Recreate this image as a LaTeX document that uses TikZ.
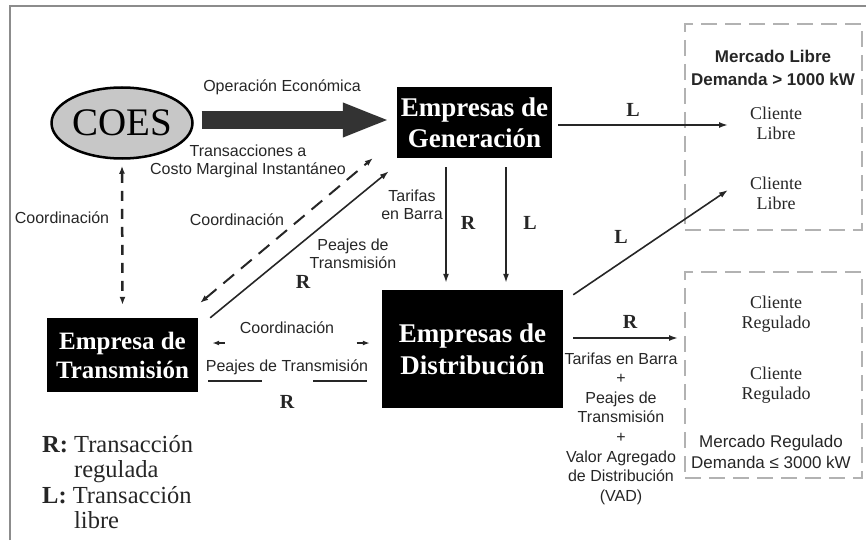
\documentclass[tikz,border=0pt]{standalone}
\usepackage{fontspec}
\setmainfont{Liberation Serif}
\setsansfont{Liberation Sans}
\usetikzlibrary{shapes.geometric,arrows.meta,calc}
\begin{document}
\begin{tikzpicture}[x=1pt,y=-1pt,
  blackbox/.style={fill=black, text=white, font=\bfseries\fontsize{27}{31}\selectfont, align=center, inner sep=0pt},
  lbl/.style={font=\sffamily\fontsize{16}{18}\selectfont, text=black!85, align=center, inner sep=0pt},
  rl/.style={font=\bfseries\fontsize{20}{22}\selectfont, text=black!85, inner sep=0pt},
  cli/.style={font=\fontsize{18}{20}\selectfont, align=center, inner sep=0pt, text=black!85},
  dashbox/.style={draw=black!30, line width=2pt, dash pattern=on 16pt off 8pt, minimum width=177pt, minimum height=206pt, inner sep=0pt},
  arr/.style={line width=1.6pt, draw=black!85, -{Latex[length=9pt,width=6pt]}},
  coordv/.style={line width=2.5pt, draw=black!85, dash pattern=on 10pt off 8pt, {Latex[length=8pt,width=6pt]}-{Latex[length=8pt,width=6pt]}},
  coordd/.style={line width=2pt, draw=black!85, dash pattern=on 14pt off 9pt, {Latex[length=8pt,width=6pt]}-{Latex[length=8pt,width=6pt]}},
]
\useasboundingbox (0,0) rectangle (866,540);
\draw[black!45, line width=2pt] (10,540) -- (10,6) -- (866,6);

% dashed market boxes
\node[dashbox] (lib) at (773.5,127) {};
\node[dashbox] (reg) at (773.5,375) {};

% main nodes
\node[ellipse, draw=black, line width=2.5pt, fill=black!22, minimum width=128pt, minimum height=71pt, inner sep=0pt, font=\fontsize{39}{40}\selectfont] (coes) at (122,123) {COES};
\node[blackbox, minimum width=155pt, minimum height=71pt] (gen) at (474.5,122.5) {Empresas de\\Generación};
\node[blackbox, minimum width=181pt, minimum height=118pt, font=\bfseries\fontsize{27}{32}\selectfont] (dist) at (472.5,349) {Empresas de\\Distribución};
\node[blackbox, minimum width=151pt, minimum height=74pt, font=\bfseries\fontsize{25}{29}\selectfont] (trans) at (122.5,355) {Empresa de\\Transmisión};

% big arrow
\draw[line width=18pt, draw=black!80, -{Triangle[length=47pt,width=31pt]}] ([xshift=8pt,yshift=3pt]coes.east) -- ([xshift=-7pt,yshift=2.5pt]gen.west);

% coordination COES - transmision
\draw[coordv] ($(coes.south)+(0,6)$) -- ($(trans.north)+(0,-13)$);
% diagonals
\draw[coordd] ($(trans.north east)+(2,-15)$) -- ($(gen.south west)+(-24,0)$);
\draw[arr] ($(trans.north east)+(12,0)$) -- ($(gen.south west)+(-8,13)$);
% transmision - distribucion
\draw[line width=1.6pt, draw=black!85, dash pattern=on 6pt off 132pt, {Latex[length=7pt,width=5pt]}-{Latex[length=7pt,width=5pt]}] ($(trans.east)+(14,-12)$) -- ($(dist.west)+(-12,-6)$);
\draw[line width=1.8pt, draw=black!85, dash pattern=on 54pt off 51pt] ($(trans.east)+(10,26)$) -- ($(dist.west)+(-12,32)$);
% generacion - distribucion
\draw[arr] ($(gen.south)+(-28.5,9)$) -- ($(dist.north)+(-26.5,-7)$);
\draw[arr] ($(gen.south)+(31.5,9)$) -- ($(dist.north)+(33.5,-7)$);
% to clients
\coordinate (cl1in) at (728,125);
\coordinate (cl2in) at (728,190);
\coordinate (regin) at (678,338);
\draw[arr] ($(gen.east)+(6,2.5)$) -- (cl1in);
\draw[arr] ($(dist.north east)+(10,5)$) -- (cl2in);
\draw[arr] ($(dist.east)+(10,-11)$) -- (regin);

% labels
\node[lbl] (opec) at (282,87) {Operación Económica};
\node[lbl] (tcmg) at (248,161) {Transacciones a\\Costo Marginal Instantáneo};
\node[lbl] (coo1) at (62,218) {Coordinación};
\node[lbl] (coo2) at (237,220) {Coordinación};
\node[lbl] (pea1) at (353,254) {Peajes de\\Transmisión};
\node[rl] (r1) at (303,282) {R};
\node[lbl] (tar1) at (412,205) {Tarifas\\en Barra};
\node[rl] (r2) at (468,223) {R};
\node[rl] (l2) at (530,223) {L};
\node[rl] (l1) at (633,110) {L};
\node[rl] (l3) at (621,237) {L};
\node[lbl] (coo3) at (287,328) {Coordinación};
\node[lbl] (pea2) at (287,367) {Peajes de Transmisión};
\node[rl] (r3) at (287,402) {R};
\node[rl] (r4) at (630,322) {R};
\node[lbl, font=\sffamily\fontsize{16}{19.6}\selectfont] (tar2) at (621,428.5) {Tarifas en Barra\\+\\Peajes de\\Transmisión\\+\\Valor Agregado\\de Distribución\\(VAD)};

% market texts
\node[lbl, font=\sffamily\bfseries\fontsize{17}{23}\selectfont] (ml) at (773,68) {Mercado Libre\\Demanda > 1000 kW};
\node[cli] (c1) at (776,123) {Cliente\\Libre};
\node[cli] (c2) at (776,193) {Cliente\\Libre};
\node[cli] (c3) at (776,314) {Cliente\\Regulado};
\node[cli] (c4) at (776,385) {Cliente\\Regulado};
\node[lbl, font=\sffamily\fontsize{17}{21}\selectfont] (mr) at (771,452) {Mercado Regulado\\Demanda ≤ 3000 kW};

% legend
\node[anchor=north west, align=left, inner sep=0pt, text=black!85, font=\fontsize{24.5}{25.5}\selectfont] (leg) at (42,435) {\textbf{R:} Transacción\\\phantom{\textbf{R:} }regulada\\\textbf{L:} Transacción\\\phantom{\textbf{R:} }libre};
\end{tikzpicture}
\end{document}
